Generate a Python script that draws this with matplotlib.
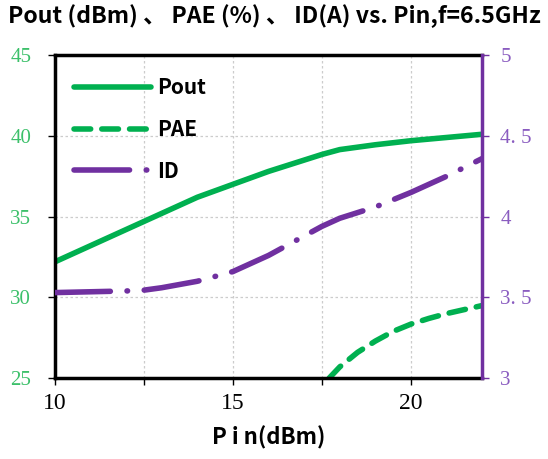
import numpy as np
import matplotlib.pyplot as plt
from matplotlib.ticker import MultipleLocator, FuncFormatter

plt.rcParams['font.family'] = ['Noto Sans CJK SC', 'DejaVu Sans']

green = '#00B050'
purple = '#7030A0'

# values
pin = [10, 11, 12, 12.5, 13, 14, 15, 16, 17, 17.5, 18, 19, 20, 21, 22]
pout = [32.2, 33.2, 34.2, 34.7, 35.2, 36.2, 37.0, 37.8, 38.5, 38.85, 39.15, 39.45, 39.7, 39.9, 40.1]
id_a = [3.53, 3.535, 3.54, 3.545, 3.56, 3.6, 3.66, 3.76, 3.88, 3.94, 3.99, 4.06, 4.15, 4.25, 4.36]

pin_pae = [17.7, 18, 18.5, 19, 19.5, 20, 20.5, 21, 21.5, 22]
pae = [25.0, 25.7, 26.6, 27.3, 27.9, 28.35, 28.7, 29.0, 29.25, 29.5]

fig = plt.figure(figsize=(5.48, 4.59), dpi=100)
ax = fig.add_axes([0.1, 0.176, 0.78, 0.704])
ax2 = ax.twinx()

l1, = ax.plot(pin, pout, color=green, lw=4, solid_capstyle='round', label='Pout')
l2, = ax.plot(pin_pae, pae, color=green, lw=4, ls=(0, (3, 2)), dash_capstyle='round', label='PAE')
l3, = ax2.plot(pin, id_a, color=purple, lw=4, ls=(0, (10, 3, 0.1, 3)), dash_capstyle='round', label='ID')

ax.set_xlim(10, 22)
ax.set_ylim(25, 45)
ax2.set_ylim(3, 5)
ax.xaxis.set_major_locator(MultipleLocator(2.5))
ax.xaxis.set_major_formatter(FuncFormatter(lambda v, p: '%d' % v if v % 5 == 0 else ''))
ax.yaxis.set_major_locator(MultipleLocator(5))
ax2.yaxis.set_major_locator(MultipleLocator(0.5))
ax2.yaxis.set_major_formatter(FuncFormatter(lambda v, p: ('%g' % v).replace('.', '. ')))

ax.grid(True, color='#cccccc', ls=(0, (2, 2)), lw=0.9)
ax.set_axisbelow(True)

for s in ['left', 'top', 'bottom']:
    ax.spines[s].set_linewidth(2.5)
    ax.spines[s].set_color('black')
ax.spines['right'].set_visible(False)
for s in ['left', 'top', 'bottom']:
    ax2.spines[s].set_visible(False)
ax2.spines['right'].set_color(purple)
ax2.spines['right'].set_linewidth(2.5)

ax.tick_params(axis='x', labelsize=17, labelcolor='black', direction='out', length=5, width=1, pad=6)
ax.tick_params(axis='y', labelsize=15, labelcolor='#3CC06A', direction='out', length=5, width=1, pad=12)
ax2.tick_params(axis='y', labelsize=15, colors=purple, direction='out', length=5, width=1, pad=8)
ax2.tick_params(axis='y', labelcolor='#8A5CC0')
for lab in ax.get_xticklabels() + ax.get_yticklabels() + ax2.get_yticklabels():
    lab.set_family(['Liberation Serif', 'DejaVu Serif'])

ax.set_xlabel('P i n(dBm)', fontsize=16, fontweight='bold', labelpad=8)
fig.suptitle('Pout (dBm) 、 PAE (%) 、 ID(A) vs. Pin,f=6.5GHz', x=0.5, y=0.99,
             fontsize=16.6, fontweight='bold')

leg = ax.legend(handles=[l1, l2, l3], loc='upper left', bbox_to_anchor=(0.0, 0.99),
                frameon=False, handlelength=3.7, handletextpad=0.3, labelspacing=1.0,
                prop={'weight': 'bold', 'size': 15})

fig.savefig('out.png', dpi=100)
